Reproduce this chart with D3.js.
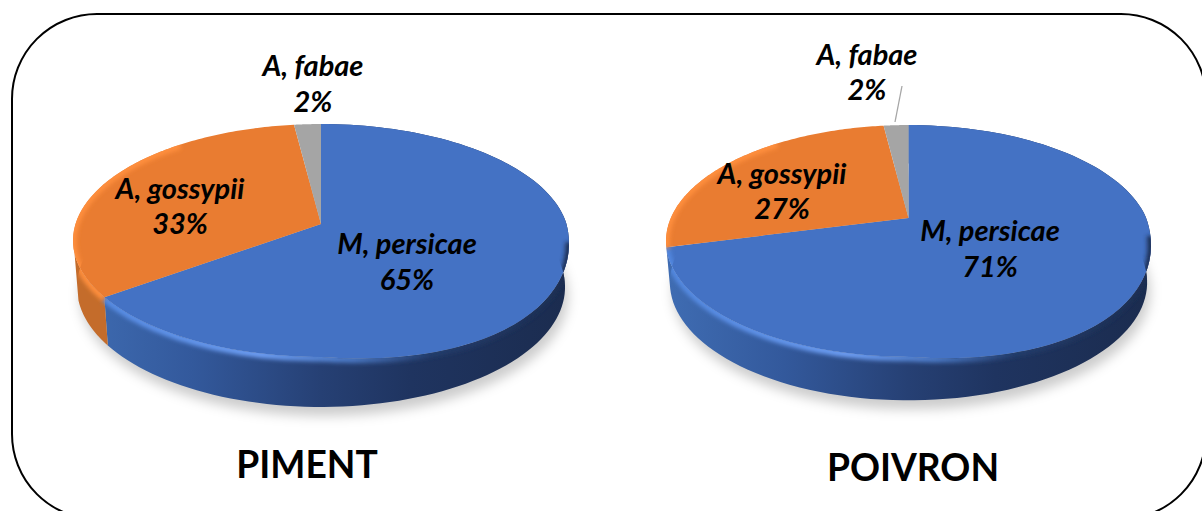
<!DOCTYPE html>
<html>
<head>
<meta charset="utf-8">
<script src="https://cdn.jsdelivr.net/npm/d3@7"></script>
<style>
html,body{margin:0;padding:0;background:#fff;overflow:hidden}
svg{display:block}
text{font-family:Lato,"Noto Sans",sans-serif;fill:#000;font-weight:700}
</style>
</head>
<body>
<svg id="chart" width="1202" height="511"></svg>
<script>
// Aphid species shares per crop
const species = ["M, persicae", "A, gossypii", "A, fabae"];
const pimentValues = [65, 33, 2];
const poivronValues = [71, 27, 2];
const cropNames = ["PIMENT", "POIVRON"];

const sliceColors = d3.scaleOrdinal(species, ["#4472c4", "#e97c31", "#a5a5a5"]);
const wallStops = {
  "M, persicae": [[0, "#3f6cb2"], [0.24, "#33599c"], [0.5, "#264074"], [0.68, "#1f3460"], [1, "#1b2c4f"]],
  "A, gossypii": [[0, "#c46c2b"], [1, "#c46c2b"]],
  "A, fabae": [[0, "#7c7c7c"], [1, "#7c7c7c"]]
};
const bevelStops = {
  "M, persicae": [[0, "#5288e0"], [0.38, "#6fa0f6"], [0.56, "#4a78c4"], [0.72, "#243d6c"], [1, "#1c2e52"]],
  "A, gossypii": [[0, "#ff8f3e"], [1, "#ff8f3e"]],
  "A, fabae": [[0, "#a5a5a5"], [1, "#a5a5a5"]]
};

// Each disc is tilted with a perspective: apex sits above the ellipse centre
const discs = [
  {
    id: "piment", values: pimentValues, name: cropNames[0],
    cx: 321, apexY: 224, radius: 245.5, tilt: -0.1416, lift: 82.4, depth: 46, depthGrow: 4,
    titleX: 307, titleY: 478,
    labels: [[407, 254, 290], [180, 199, 234], [313, 76, 112]]
  },
  {
    id: "poivron", values: poivronValues, name: cropNames[1],
    cx: 908.5, apexY: 218, radius: 237.7, tilt: -0.198, lift: 68.2, depth: 41, depthGrow: 2.5,
    titleX: 913, titleY: 481,
    labels: [[990, 241, 277], [782, 184, 219], [867, 65, 100]]
  }
];
const faceBulge = 11;            // near-right edge of the face sags towards the viewer
const wallEndLimit = 1.42 * Math.PI;  // walls further round than this are out of sight

const svg = d3.select("#chart");
const defs = svg.append("defs");

const blurFilter = (id, sd) => defs.append("filter").attr("id", id)
  .attr("x", "-20%").attr("y", "-20%").attr("width", "140%").attr("height", "140%")
  .append("feGaussianBlur").attr("stdDeviation", sd);
blurFilter("shadowBlur", 6);
blurFilter("bevelBlur", 2);

const line = d3.line();

// Rounded frame around both pies
svg.append("rect")
  .attr("x", 12).attr("y", 14).attr("width", 1194).attr("height", 505)
  .attr("rx", 85).attr("ry", 85)
  .attr("fill", "#fff").attr("stroke", "#000").attr("stroke-width", 2);

function addGradient(id, stops, x0, x1) {
  const g = defs.append("linearGradient").attr("id", id)
    .attr("gradientUnits", "userSpaceOnUse")
    .attr("x1", x0).attr("x2", x1).attr("y1", 0).attr("y2", 0);
  stops.forEach(s => g.append("stop").attr("offset", s[0]).attr("stop-color", s[1]));
}

discs.forEach(disc => {
  const project = (angle, drop = 0) => {
    const u = Math.sin(angle), v = -Math.cos(angle);
    const w = 1 + disc.tilt * v;
    const narrow = 1 - 0.016 * drop;
    const sag = drop < 0.5 && u > 0 && v > 0 ? faceBulge * 2 * u * v : 0;
    return [
      disc.cx + narrow * disc.radius * u / w,
      disc.apexY + (disc.lift * v) / w + disc.apexY * (1 / w - 1) + sag + drop * (disc.depth + disc.depthGrow * v)
    ];
  };
  const arcPoints = (a0, a1, drop = 0) =>
    d3.range(0, 121).map(i => project(a0 + (a1 - a0) * i / 120, drop));

  const slices = d3.pie().sort(null).value(d => d.value)(
    species.map((s, i) => ({ species: s, value: disc.values[i] }))
  );

  const left = disc.cx - disc.radius * 1.01, right = disc.cx + disc.radius * 1.01;
  const layer = svg.append("g").attr("class", disc.id);

  const fullTop = arcPoints(0, 2 * Math.PI);
  const outline = [...fullTop, ...arcPoints(2 * Math.PI, 0, 1)];

  // Soft drop shadow under the disc
  layer.append("path")
    .attr("d", line(arcPoints(0, 2 * Math.PI, 1)))
    .attr("transform", "translate(3,9)")
    .attr("fill", "#000").attr("fill-opacity", 0.2)
    .attr("filter", "url(#shadowBlur)");

  // Side walls
  slices.forEach((s, i) => {
    const end = Math.min(s.endAngle, wallEndLimit);
    if (end <= s.startAngle) return;
    const id = `${disc.id}-wall-${i}`;
    addGradient(id, wallStops[s.data.species], left, right);
    layer.append("path")
      .attr("d", line([...arcPoints(s.startAngle, end), ...arcPoints(end, s.startAngle, 1)]) + "Z")
      .attr("fill", `url(#${id})`);
  });

  // Top faces
  slices.forEach(s => {
    layer.append("path")
      .attr("d", line([[disc.cx, disc.apexY], ...arcPoints(s.startAngle, s.endAngle)]) + "Z")
      .attr("fill", sliceColors(s.data.species));
  });

  // Bevelled rim along the near edge, kept inside the disc silhouette
  const clipId = `${disc.id}-clip`;
  defs.append("clipPath").attr("id", clipId).append("path").attr("d", line(outline) + "Z");
  const bevel = layer.append("g").attr("clip-path", `url(#${clipId})`);
  slices.forEach((s, i) => {
    const start = Math.max(s.startAngle, Math.PI * 0.54);
    const end = Math.min(s.endAngle, Math.PI * 1.78);
    if (end <= start) return;
    const id = `${disc.id}-bevel-${i}`;
    addGradient(id, bevelStops[s.data.species], left, right);
    bevel.append("path")
      .attr("d", line(arcPoints(start, end, 0.02)))
      .attr("fill", "none")
      .attr("stroke", `url(#${id})`)
      .attr("stroke-width", 7)
      .attr("filter", "url(#bevelBlur)");
  });

  // Category and percentage labels
  slices.forEach((s, i) => {
    const [x, y1, y2] = disc.labels[i];
    const label = layer.append("g").attr("text-anchor", "middle")
      .attr("font-size", 29).attr("font-style", "italic");
    label.append("text").attr("x", x).attr("y", y1).text(s.data.species);
    label.append("text").attr("x", x).attr("y", y2).text(`${s.data.value}%`);
  });

  layer.append("text")
    .attr("x", disc.titleX).attr("y", disc.titleY)
    .attr("text-anchor", "middle").attr("font-size", 37.2)
    .text(disc.name);
});

// Leader line for the small slice of the second pie
svg.append("path")
  .attr("d", line([[902, 86], [895, 122]]))
  .attr("stroke", "#a6a6a6").attr("stroke-width", 1.3).attr("fill", "none");
</script>
</body>
</html>
